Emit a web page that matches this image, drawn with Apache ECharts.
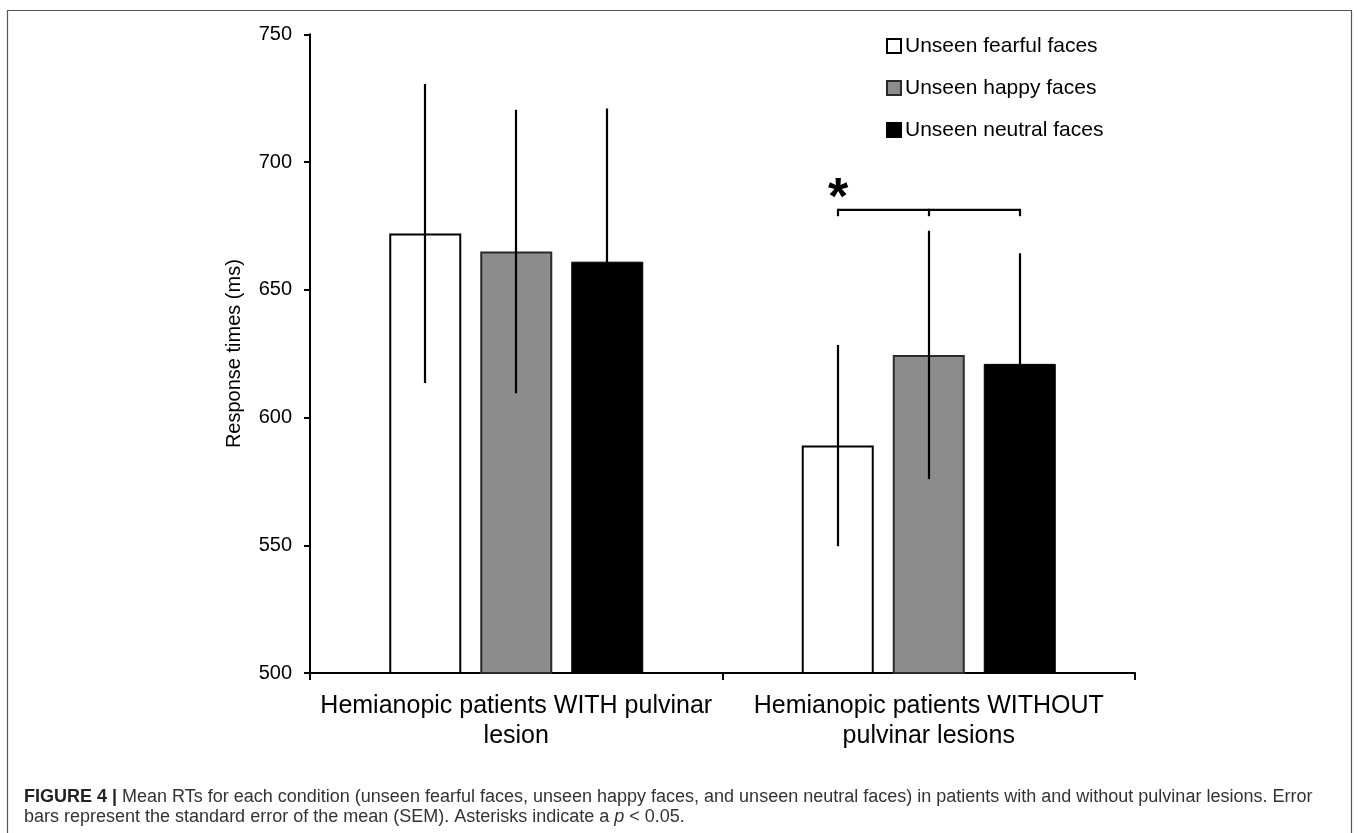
<!DOCTYPE html>
<html>
<head>
<meta charset="utf-8">
<script src="https://cdn.jsdelivr.net/npm/echarts@6/dist/echarts.min.js"></script>
<style>
html,body{margin:0;padding:0;background:#fff;}
#chart{width:1358px;height:833px;}
</style>
</head>
<body>
<div id="chart"></div>
<script>
// ---- data ----
var categories = ['Hemianopic patients WITH pulvinar\nlesion', 'Hemianopic patients WITHOUT\npulvinar lesions'];
var seriesNames = ['Unseen fearful faces', 'Unseen happy faces', 'Unseen neutral faces'];
var fearfulMeans = [672, 589];
var happyMeans = [665, 624.5];
var neutralMeans = [661, 621];
var fearfulSEM = [58.5, 39.4];
var happySEM = [55.5, 48.6];
var neutralSEM = [60, 43.3];
var yTicks = [500, 550, 600, 650, 700, 750];
// significance bracket (group 2: fearful vs happy/neutral)
var sigCategory = 1;
var sigSeries = [0, 1, 2];
var sigLevel = 681.3;
var sigTickEnd = 678.8;
var sigStarLevel = 689.5;
var sigLabel = '*';
var captionLine1 = 'Mean RTs for each condition (unseen fearful faces, unseen happy faces, and unseen neutral faces) in patients with and without pulvinar lesions. Error';
var captionLine2a = 'bars represent the standard error of the mean (SEM). Asterisks indicate a ';
var captionLine2b = ' < 0.05.';

// ---- style constants ----
var BAR_W = 72;
var GAP_PX = 19;
var FONT = '"Liberation Sans", Arial, Helvetica, sans-serif';

var means = [fearfulMeans, happyMeans, neutralMeans];
var sems = [fearfulSEM, happySEM, neutralSEM];
var barStyles = [
  {color: '#ffffff', borderColor: '#000000', borderWidth: 2},
  {color: '#8c8c8c', borderColor: '#2a2a2a', borderWidth: 2},
  {color: '#000000', borderColor: '#000000', borderWidth: 1}
];

function offsetFor(k) { return (k - 1) * (BAR_W + GAP_PX); }

var series = [];
for (var k = 0; k < 3; k++) {
  series.push({
    name: seriesNames[k],
    type: 'bar',
    data: means[k],
    barWidth: BAR_W,
    barGap: (GAP_PX / BAR_W * 100) + '%',
    itemStyle: barStyles[k],
    emphasis: {disabled: true},
    z: 2
  });
}

// error bars
var errData = [];
for (var k2 = 0; k2 < 3; k2++) {
  for (var c = 0; c < categories.length; c++) {
    errData.push([c, means[k2][c] - sems[k2][c], means[k2][c] + sems[k2][c], k2]);
  }
}
series.push({
  type: 'custom',
  name: 'err',
  data: errData,
  z: 5,
  silent: true,
  encode: {x: 0, y: [1, 2]},
  renderItem: function (params, api) {
    var ci = api.value(0);
    var lo = api.coord([ci, api.value(1)]);
    var hi = api.coord([ci, api.value(2)]);
    var x = Math.round(lo[0] + offsetFor(api.value(3)));
    return {
      type: 'line',
      shape: {x1: x, y1: lo[1], x2: x, y2: hi[1]},
      style: {stroke: '#000', lineWidth: 2.2}
    };
  }
});

// significance bracket
series.push({
  type: 'custom',
  name: 'sig',
  data: [[sigCategory, sigLevel, sigTickEnd, sigStarLevel]],
  z: 5,
  silent: true,
  encode: {x: 0, y: [1, 2, 3]},
  renderItem: function (params, api) {
    var ci = api.value(0);
    var top = api.coord([ci, api.value(1)]);
    var bot = api.coord([ci, api.value(2)]);
    var star = api.coord([ci, api.value(3)]);
    var xs = sigSeries.map(function (s) { return Math.round(top[0] + offsetFor(s)); });
    var children = [{
      type: 'line',
      shape: {x1: xs[0], y1: top[1], x2: xs[xs.length - 1], y2: top[1]},
      style: {stroke: '#000', lineWidth: 2.2}
    }];
    xs.forEach(function (x) {
      children.push({
        type: 'line',
        shape: {x1: x, y1: top[1] - 1, x2: x, y2: bot[1]},
        style: {stroke: '#000', lineWidth: 2.2}
      });
    });
    children.push({
      type: 'text',
      style: {
        text: sigLabel, x: xs[0], y: star[1] + 11,
        fill: '#000', font: 'bold 52px ' + FONT,
        align: 'center', verticalAlign: 'middle'
      }
    });
    return {type: 'group', children: children};
  }
});

var chart = echarts.init(document.getElementById('chart'), null, {renderer: 'canvas'});
chart.setOption({
  animation: false,
  backgroundColor: '#fff',
  grid: {left: 310, right: 223, top: 34.3, bottom: 160, containLabel: false},
  legend: {
    data: seriesNames,
    orient: 'vertical',
    left: 881,
    top: 30,
    itemWidth: 14,
    itemHeight: 14,
    itemGap: 20,
    icon: 'rect',
    selectedMode: false,
    textStyle: {fontFamily: FONT, fontSize: 21, color: '#000', lineHeight: 22, padding: [0, 0, 0, -1]}
  },
  xAxis: {
    type: 'category',
    data: categories,
    axisLine: {lineStyle: {color: '#000', width: 2}},
    axisTick: {show: true, length: 7, lineStyle: {color: '#000', width: 2}},
    axisLabel: {
      fontFamily: FONT, fontSize: 25, color: '#000', lineHeight: 30, margin: 18,
      interval: 0
    },
    splitLine: {show: false}
  },
  yAxis: {
    type: 'value',
    min: yTicks[0],
    max: yTicks[yTicks.length - 1],
    interval: yTicks[1] - yTicks[0],
    name: 'Response times (ms)',
    nameLocation: 'middle',
    nameGap: 66,
    nameRotate: 90,
    nameTextStyle: {fontFamily: FONT, fontSize: 20, color: '#000'},
    axisLine: {show: true, lineStyle: {color: '#000', width: 2}},
    axisTick: {show: true, length: 6, lineStyle: {color: '#000', width: 2}},
    axisLabel: {fontFamily: FONT, fontSize: 20, color: '#000', margin: 18},
    splitLine: {show: false}
  },
  graphic: [
    {
      type: 'rect', silent: true, z: 0,
      shape: {x: 7.5, y: 10.5, width: 1344, height: 900},
      style: {fill: 'none', stroke: '#555', lineWidth: 1.2}
    },
    {
      type: 'text', left: 24, top: 788, silent: true,
      style: {
        text: '{b|FIGURE 4 |} ' + captionLine1,
        font: '18px ' + FONT, fill: '#333',
        rich: {
          b: {fontFamily: FONT, fontSize: 18, fontWeight: 'bold', fill: '#222'}
        }
      }
    },
    {
      type: 'text', left: 24, top: 808, silent: true,
      style: {
        text: captionLine2a + '{i|p}' + captionLine2b,
        font: '18px ' + FONT, fill: '#333',
        rich: {i: {fontFamily: FONT, fontSize: 18, fontStyle: 'italic', fill: '#333'}}
      }
    }
  ],
  series: series
});
</script>
</body>
</html>
